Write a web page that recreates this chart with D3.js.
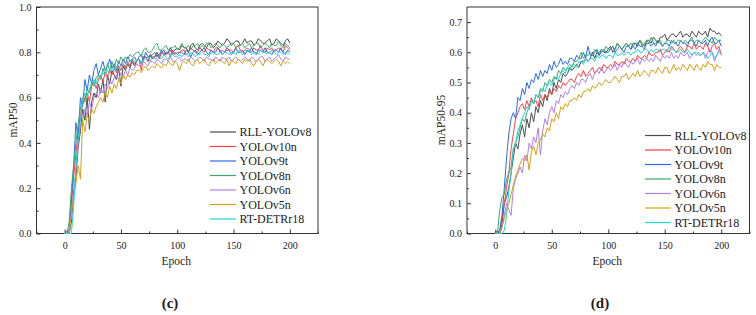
<html>
  <head>
    <title>mAP curves</title>
    <script src="https://d3js.org/d3.v7.min.js"></script>
    <style>
      body { margin: 0; background: #fff; }
      text { font-family: "Liberation Serif", "Times New Roman", serif; fill: #222; }
      .axis path, .axis line { stroke: #333; }
    </style>
  </head>
  <body>
    <svg id="chart" width="756" height="315"></svg>
    <script>
      // epochs sampled every 2
      const epochs = d3.range(0, 201, 2);
      const names = ["RLL-YOLOv8", "YOLOv10n", "YOLOv9t", "YOLOv8n", "YOLOv6n", "YOLOv5n", "RT-DETRr18"];
      const colors = ["#4d4d4d", "#ff4040", "#2a6be8", "#3aab6c", "#b27fe8", "#d6a012", "#1ed6d6"];

      // (c) mAP50
      const rllC = [0,0.01,0,0.05,0.18,0.25,0.38,0.45,0.55,0.5,0.6,
        0.46,0.58,0.62,0.6,0.66,0.62,0.68,0.58,0.7,0.66,
        0.72,0.7,0.68,0.73,0.65,0.74,0.72,0.75,0.73,0.76,
        0.74,0.76,0.77,0.75,0.78,0.78,0.76,0.79,0.77,0.78,
        0.80,0.78,0.80,0.81,0.79,0.80,0.82,0.80,0.81,0.82,
        0.81,0.83,0.82,0.82,0.80,0.83,0.84,0.82,0.81,0.83,
        0.84,0.83,0.82,0.84,0.84,0.82,0.83,0.85,0.84,0.83,
        0.84,0.86,0.85,0.83,0.84,0.85,0.85,0.83,0.84,0.86,
        0.84,0.85,0.85,0.83,0.84,0.86,0.85,0.84,0.84,0.85,
        0.86,0.83,0.84,0.86,0.85,0.84,0.83,0.85,0.86,0.84];
      const v10C = [0,0,0.02,0.12,0.25,0.35,0.45,0.52,0.57,0.6,0.62,
        0.58,0.65,0.67,0.64,0.68,0.7,0.67,0.71,0.69,0.72,
        0.7,0.73,0.71,0.74,0.72,0.75,0.73,0.76,0.74,0.77,
        0.75,0.76,0.77,0.72,0.77,0.78,0.76,0.79,0.78,0.78,
        0.79,0.77,0.80,0.79,0.79,0.80,0.78,0.81,0.79,0.80,
        0.80,0.81,0.81,0.79,0.80,0.82,0.81,0.80,0.80,0.82,
        0.81,0.80,0.82,0.81,0.81,0.80,0.82,0.82,0.80,0.81,
        0.80,0.82,0.81,0.81,0.80,0.82,0.83,0.81,0.80,0.81,
        0.82,0.81,0.80,0.82,0.81,0.81,0.83,0.81,0.80,0.82,
        0.81,0.82,0.80,0.81,0.82,0.81,0.80,0.83,0.82,0.81];
      const v9C = [0,0,0.01,0.15,0.3,0.49,0.42,0.6,0.56,0.68,0.63,
        0.7,0.66,0.72,0.75,0.7,0.73,0.76,0.72,0.74,0.77,
        0.73,0.75,0.72,0.76,0.74,0.77,0.75,0.78,0.76,0.77,
        0.78,0.76,0.78,0.79,0.77,0.80,0.78,0.78,0.79,0.80,
        0.78,0.79,0.81,0.79,0.80,0.80,0.81,0.79,0.80,0.79,
        0.80,0.80,0.79,0.81,0.80,0.78,0.80,0.81,0.79,0.80,
        0.81,0.82,0.80,0.79,0.81,0.80,0.80,0.82,0.81,0.79,
        0.80,0.81,0.81,0.79,0.80,0.82,0.80,0.80,0.81,0.79,
        0.81,0.80,0.82,0.80,0.79,0.81,0.81,0.80,0.82,0.80,
        0.80,0.79,0.81,0.81,0.80,0.82,0.80,0.79,0.81,0.80];
      const v8C = [0,0,0.05,0.2,0.3,0.4,0.48,0.55,0.6,0.58,0.64,
        0.62,0.67,0.65,0.69,0.7,0.68,0.73,0.7,0.75,0.72,
        0.76,0.73,0.77,0.75,0.78,0.76,0.78,0.77,0.79,0.78,
        0.79,0.80,0.80,0.78,0.81,0.82,0.80,0.80,0.81,0.83,
        0.84,0.81,0.81,0.82,0.83,0.81,0.82,0.82,0.83,0.81,
        0.82,0.84,0.82,0.82,0.83,0.81,0.83,0.83,0.84,0.82,
        0.83,0.82,0.84,0.84,0.82,0.83,0.84,0.83,0.82,0.84,
        0.83,0.82,0.83,0.84,0.84,0.82,0.83,0.83,0.84,0.82,
        0.83,0.84,0.82,0.83,0.84,0.84,0.82,0.83,0.84,0.83,
        0.82,0.84,0.83,0.83,0.85,0.83,0.82,0.84,0.83,0.82];
      const v6C = [0,0,0,0.1,0.18,0.28,0.4,0.48,0.5,0.55,0.52,
        0.58,0.55,0.6,0.62,0.6,0.64,0.62,0.66,0.64,0.68,
        0.66,0.69,0.7,0.68,0.71,0.69,0.72,0.7,0.73,0.72,
        0.73,0.75,0.74,0.74,0.76,0.75,0.74,0.76,0.76,0.75,
        0.77,0.76,0.75,0.77,0.77,0.76,0.78,0.76,0.76,0.77,
        0.78,0.76,0.77,0.77,0.76,0.78,0.77,0.76,0.77,0.78,
        0.77,0.76,0.78,0.77,0.77,0.76,0.78,0.77,0.76,0.78,
        0.77,0.77,0.78,0.76,0.77,0.78,0.77,0.76,0.77,0.78,
        0.77,0.76,0.78,0.77,0.76,0.77,0.78,0.78,0.76,0.77,
        0.78,0.76,0.77,0.78,0.79,0.77,0.76,0.78,0.77,0.77];
      const v5C = [0,0,0,0.08,0.16,0.22,0.3,0.24,0.5,0.45,0.52,
        0.5,0.55,0.53,0.56,0.58,0.6,0.58,0.62,0.6,0.65,
        0.62,0.66,0.64,0.68,0.66,0.7,0.68,0.7,0.69,0.71,
        0.70,0.72,0.72,0.71,0.73,0.74,0.72,0.73,0.74,0.73,
        0.75,0.74,0.73,0.75,0.74,0.76,0.75,0.74,0.76,0.75,
        0.72,0.75,0.76,0.75,0.77,0.75,0.74,0.76,0.77,0.75,
        0.76,0.77,0.75,0.74,0.76,0.77,0.75,0.76,0.77,0.76,
        0.75,0.77,0.74,0.76,0.76,0.75,0.77,0.76,0.75,0.77,
        0.76,0.77,0.75,0.74,0.76,0.77,0.76,0.74,0.76,0.77,
        0.76,0.75,0.76,0.77,0.76,0.74,0.76,0.75,0.76,0.75];
      const rtC = [0,0,0,0,0.12,0.3,0.42,0.5,0.58,0.62,0.6,
        0.64,0.66,0.68,0.66,0.7,0.69,0.71,0.7,0.72,0.71,
        0.73,0.72,0.74,0.73,0.74,0.75,0.74,0.75,0.76,0.75,
        0.76,0.76,0.77,0.75,0.77,0.77,0.78,0.76,0.78,0.77,
        0.78,0.78,0.77,0.79,0.78,0.77,0.79,0.79,0.78,0.78,
        0.79,0.78,0.79,0.79,0.78,0.80,0.79,0.78,0.79,0.79,
        0.80,0.79,0.79,0.78,0.80,0.80,0.79,0.79,0.80,0.79,
        0.80,0.80,0.79,0.80,0.80,0.79,0.81,0.80,0.79,0.80,
        0.80,0.81,0.79,0.80,0.80,0.79,0.81,0.80,0.80,0.79,
        0.80,0.81,0.80,0.79,0.80,0.80,0.79,0.80,0.80,0.79];

      // (d) mAP50-95
      const rllD = [0,0.01,0,0.03,0.1,0.12,0.15,0.2,0.25,0.3,0.28,
        0.33,0.36,0.32,0.38,0.35,0.4,0.37,0.42,0.4,0.44,
        0.42,0.46,0.44,0.48,0.46,0.5,0.48,0.51,0.5,0.53,
        0.52,0.53,0.55,0.54,0.55,0.56,0.55,0.57,0.57,0.58,
        0.57,0.58,0.60,0.58,0.60,0.59,0.61,0.60,0.60,0.61,
        0.62,0.60,0.61,0.63,0.62,0.61,0.62,0.63,0.62,0.61,
        0.63,0.63,0.62,0.64,0.63,0.62,0.64,0.64,0.63,0.65,
        0.64,0.63,0.65,0.65,0.66,0.64,0.65,0.66,0.66,0.65,
        0.66,0.67,0.65,0.66,0.66,0.65,0.67,0.66,0.65,0.67,
        0.66,0.66,0.67,0.65,0.68,0.67,0.67,0.66,0.665,0.655];
      const v10D = [0,0,0.01,0.05,0.1,0.15,0.2,0.28,0.33,0.38,0.4,
        0.42,0.43,0.41,0.44,0.42,0.45,0.43,0.44,0.42,0.46,
        0.44,0.46,0.45,0.47,0.46,0.48,0.47,0.49,0.48,0.5,
        0.49,0.50,0.51,0.51,0.50,0.52,0.53,0.52,0.54,0.52,
        0.53,0.54,0.55,0.53,0.54,0.55,0.54,0.56,0.55,0.55,
        0.56,0.55,0.57,0.56,0.56,0.57,0.56,0.58,0.57,0.57,
        0.58,0.57,0.59,0.58,0.58,0.59,0.58,0.60,0.59,0.59,
        0.60,0.60,0.61,0.59,0.60,0.61,0.60,0.62,0.61,0.60,
        0.61,0.62,0.61,0.60,0.62,0.62,0.61,0.63,0.61,0.62,
        0.62,0.61,0.63,0.62,0.60,0.62,0.63,0.61,0.62,0.59];
      const v9D = [0,0,0.01,0.06,0.15,0.25,0.33,0.38,0.4,0.38,0.45,
        0.44,0.48,0.46,0.5,0.48,0.51,0.5,0.53,0.51,0.54,
        0.52,0.54,0.53,0.56,0.54,0.57,0.55,0.56,0.58,0.56,
        0.57,0.56,0.58,0.58,0.57,0.59,0.58,0.58,0.60,0.58,
        0.62,0.59,0.59,0.60,0.61,0.59,0.60,0.61,0.60,0.60,
        0.61,0.62,0.60,0.61,0.62,0.61,0.60,0.62,0.62,0.61,
        0.62,0.61,0.63,0.62,0.62,0.61,0.63,0.63,0.62,0.63,
        0.62,0.64,0.63,0.62,0.63,0.63,0.62,0.64,0.63,0.63,
        0.62,0.64,0.63,0.63,0.62,0.64,0.64,0.63,0.62,0.64,
        0.63,0.63,0.64,0.62,0.64,0.65,0.63,0.63,0.64,0.62];
      const v8D = [0,0,0.08,0.12,0.13,0.18,0.2,0.22,0.28,0.3,0.32,
        0.35,0.38,0.37,0.4,0.42,0.44,0.43,0.46,0.45,0.48,
        0.47,0.5,0.49,0.51,0.5,0.52,0.51,0.54,0.53,0.55,
        0.54,0.55,0.56,0.55,0.57,0.57,0.58,0.60,0.58,0.59,
        0.59,0.60,0.59,0.61,0.60,0.60,0.61,0.60,0.62,0.61,
        0.61,0.62,0.61,0.63,0.62,0.61,0.62,0.63,0.62,0.63,
        0.62,0.63,0.63,0.64,0.62,0.63,0.64,0.63,0.65,0.63,
        0.63,0.64,0.64,0.62,0.63,0.64,0.64,0.63,0.64,0.63,
        0.64,0.64,0.63,0.64,0.63,0.64,0.65,0.63,0.64,0.64,
        0.63,0.64,0.65,0.64,0.64,0.63,0.65,0.64,0.64,0.64];
      const v6D = [0,0,0,0.02,0.06,0.1,0.08,0.06,0.15,0.18,0.2,
        0.22,0.2,0.26,0.24,0.3,0.28,0.32,0.3,0.35,0.26,
        0.34,0.38,0.36,0.4,0.42,0.4,0.44,0.43,0.46,0.45,
        0.47,0.46,0.48,0.49,0.48,0.50,0.49,0.51,0.51,0.50,
        0.52,0.53,0.51,0.53,0.54,0.53,0.55,0.53,0.54,0.55,
        0.54,0.55,0.56,0.54,0.56,0.55,0.57,0.56,0.55,0.57,
        0.56,0.57,0.58,0.56,0.58,0.57,0.58,0.57,0.58,0.57,
        0.59,0.58,0.57,0.59,0.58,0.59,0.58,0.60,0.58,0.59,
        0.58,0.60,0.59,0.59,0.60,0.58,0.59,0.60,0.59,0.60,
        0.59,0.60,0.58,0.60,0.61,0.60,0.57,0.59,0.61,0.60];
      const v5D = [0,0,0,0.02,0.05,0.08,0.1,0.13,0.16,0.19,0.21,
        0.23,0.25,0.24,0.26,0.21,0.27,0.29,0.26,0.3,0.31,
        0.33,0.32,0.35,0.34,0.38,0.37,0.4,0.38,0.42,0.41,
        0.43,0.42,0.44,0.44,0.45,0.44,0.46,0.45,0.47,0.47,
        0.48,0.47,0.49,0.48,0.49,0.50,0.49,0.50,0.51,0.50,
        0.50,0.51,0.52,0.51,0.50,0.52,0.52,0.53,0.51,0.52,
        0.53,0.52,0.54,0.52,0.53,0.54,0.53,0.52,0.54,0.54,
        0.53,0.55,0.54,0.53,0.55,0.55,0.53,0.54,0.56,0.54,
        0.55,0.54,0.56,0.55,0.54,0.56,0.55,0.54,0.56,0.55,
        0.54,0.56,0.55,0.57,0.56,0.56,0.54,0.56,0.55,0.55];
      const rtD = [0,0,0,0,0.01,0.06,0.14,0.2,0.28,0.3,0.34,
        0.36,0.38,0.4,0.42,0.41,0.44,0.43,0.46,0.45,0.47,
        0.48,0.47,0.49,0.5,0.49,0.51,0.52,0.51,0.53,0.54,
        0.53,0.55,0.54,0.56,0.56,0.55,0.57,0.57,0.56,0.58,
        0.57,0.58,0.58,0.57,0.59,0.58,0.59,0.59,0.58,0.59,
        0.59,0.58,0.60,0.59,0.59,0.60,0.59,0.60,0.60,0.59,
        0.60,0.60,0.61,0.60,0.60,0.61,0.61,0.60,0.61,0.60,
        0.61,0.61,0.60,0.61,0.61,0.60,0.62,0.61,0.61,0.60,
        0.60,0.61,0.60,0.60,0.61,0.60,0.59,0.60,0.60,0.59,
        0.59,0.60,0.59,0.58,0.59,0.60,0.58,0.59,0.60,0.60];

      const svg = d3.select("#chart");
      const serif = "Liberation Serif, Times New Roman, serif";

      function drawPanel(opts) {
        const x = d3.scaleLinear().domain([-25, 225]).range([opts.left, opts.right]);
        const y = d3.scaleLinear().domain([0, opts.yMax]).range([233.5, 7]);
        const g = svg.append("g");

        // frame
        g.append("rect")
          .attr("x", opts.left).attr("y", 7)
          .attr("width", opts.right - opts.left).attr("height", 226.5)
          .attr("fill", "none").attr("stroke", "#333").attr("stroke-width", 1);

        // minor ticks (inside)
        g.append("g").attr("class", "axis")
          .attr("transform", "translate(0,233.5)")
          .call(d3.axisBottom(x).tickValues(d3.range(-25, 226, 25).filter((v) => v % 50 !== 0)).tickSizeInner(-2).tickSizeOuter(0).tickFormat(""))
          .call((a) => a.select(".domain").remove());
        g.append("g").attr("class", "axis")
          .attr("transform", `translate(${opts.left},0)`)
          .call(d3.axisLeft(y).tickValues(opts.yMinor).tickSizeInner(-2).tickSizeOuter(0).tickFormat(""))
          .call((a) => a.select(".domain").remove());

        // major ticks
        g.append("g").attr("class", "axis")
          .attr("transform", "translate(0,233.5)")
          .call(d3.axisBottom(x).tickValues([0, 50, 100, 150, 200]).tickSizeInner(-4).tickSizeOuter(0).tickPadding(8))
          .call((a) => a.select(".domain").remove())
          .call((a) => a.selectAll("text").attr("font-family", serif).attr("font-size", "10px").attr("fill", "#333"));
        g.append("g").attr("class", "axis")
          .attr("transform", `translate(${opts.left},0)`)
          .call(d3.axisLeft(y).tickValues(opts.yTicks).tickSizeInner(-4).tickSizeOuter(0).tickPadding(5).tickFormat(d3.format(".1f")))
          .call((a) => a.select(".domain").remove())
          .call((a) => a.selectAll("text").attr("font-family", serif).attr("font-size", "10px").attr("fill", "#333"));

        // lines
        const line = d3.line().x((d, i) => x(epochs[i])).y((d) => y(d));
        const lines = g.append("g");
        opts.series.forEach((s, k) => {
          lines.append("path")
            .datum(s)
            .attr("d", line)
            .attr("fill", "none")
            .attr("stroke", colors[k])
            .attr("stroke-width", 1)
            .attr("stroke-linejoin", "round");
        });

        // legend
        const leg = g.append("g");
        names.forEach((n, k) => {
          const ly = opts.legY + k * 14.5;
          leg.append("line")
            .attr("x1", opts.legX).attr("x2", opts.legX + 26)
            .attr("y1", ly).attr("y2", ly)
            .attr("stroke", colors[k]).attr("stroke-width", 1.2);
          leg.append("text")
            .attr("x", opts.legX + 29.5).attr("y", ly + 4.2)
            .attr("font-size", "12px")
            .text(n);
        });

        // axis titles
        g.append("text")
          .attr("x", (opts.left + opts.right) / 2 - 1).attr("y", 265)
          .attr("text-anchor", "middle").attr("font-size", "11.5px")
          .text("Epoch");
        g.append("text")
          .attr("transform", `translate(${opts.yLabelX},120) rotate(-90)`)
          .attr("text-anchor", "middle").attr("font-size", "11.5px")
          .text(opts.yLabel);
        g.append("text")
          .attr("x", opts.capX).attr("y", 308)
          .attr("text-anchor", "middle").attr("font-size", "15px").attr("font-weight", "bold")
          .text(opts.caption);
      }

      drawPanel({
        left: 36.5, right: 318, yMax: 1.0,
        yTicks: [0, 0.2, 0.4, 0.6, 0.8, 1.0],
        yMinor: [0.1, 0.3, 0.5, 0.7, 0.9],
        series: [rllC, v10C, v9C, v8C, v6C, v5C, rtC],
        legX: 210, legY: 132,
        yLabel: "mAP50", yLabelX: 17, capX: 170, caption: "(c)"
      });

      drawPanel({
        left: 467, right: 749.5, yMax: 0.75,
        yTicks: [0, 0.1, 0.2, 0.3, 0.4, 0.5, 0.6, 0.7],
        yMinor: [0.05, 0.15, 0.25, 0.35, 0.45, 0.55, 0.65],
        series: [rllD, v10D, v9D, v8D, v6D, v5D, rtD],
        legX: 645, legY: 135.5,
        yLabel: "mAP50-95", yLabelX: 445, capX: 600, caption: "(d)"
      });
    </script>
  </body>
</html>
